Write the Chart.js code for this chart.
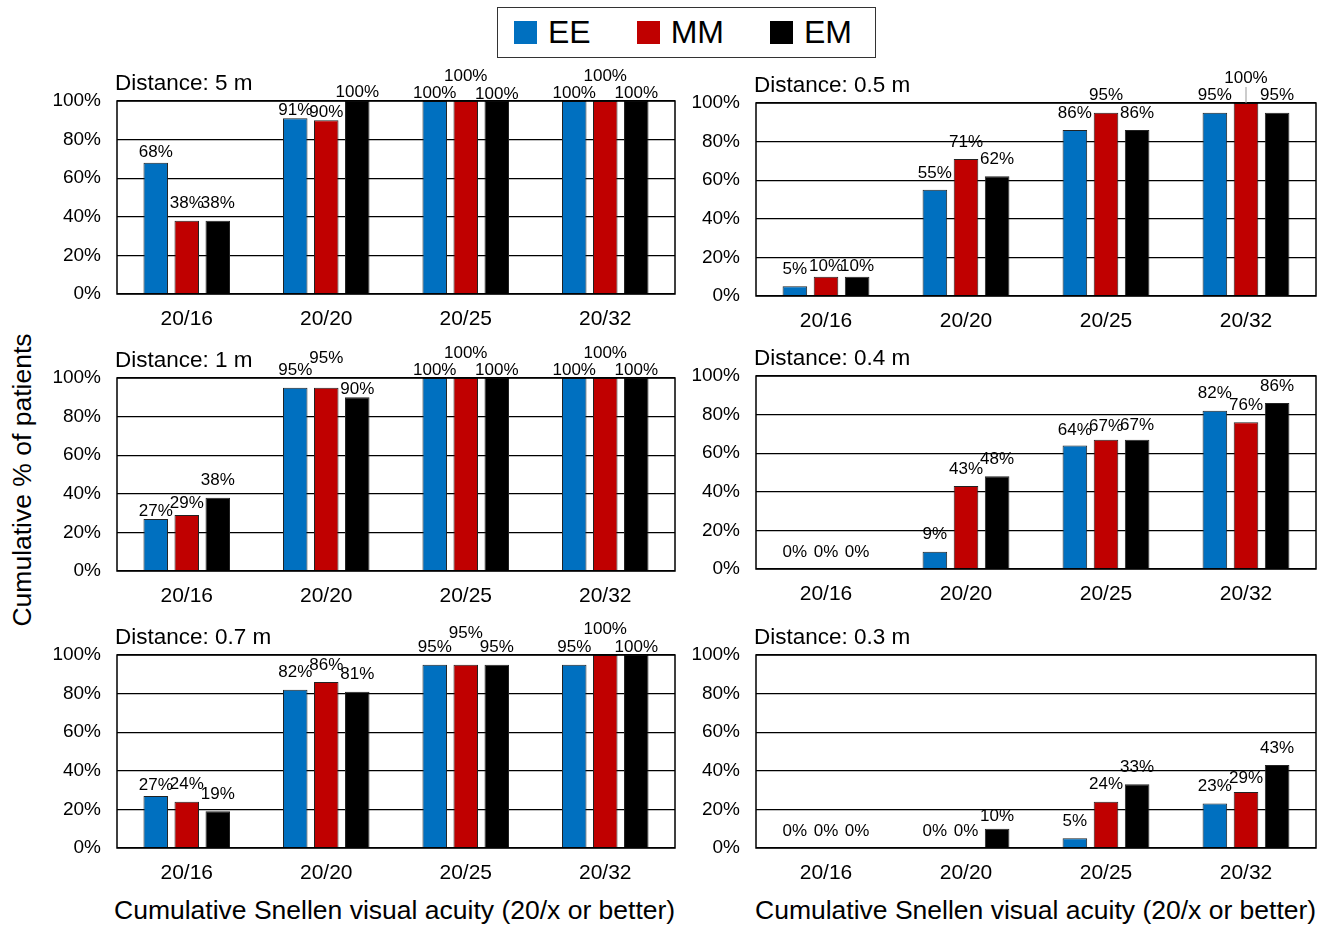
<!DOCTYPE html>
<html>
<head>
<meta charset="utf-8">
<script src="https://cdn.jsdelivr.net/npm/chart.js@4/dist/chart.umd.min.js"></script>
<style>
  body { margin:0; background:#fff; width:1337px; height:926px; position:relative; overflow:hidden;
         font-family:"Liberation Sans", Arial, sans-serif; color:#000; }
  canvas { position:absolute; }
  #legend { position:absolute; left:497px; top:7px; width:379px; height:51px; box-sizing:border-box;
            border:1.5px solid #333; display:flex; align-items:center; padding-left:16px; gap:46px; }
  .item { display:flex; align-items:center; font-size:32px; }
  .sw { width:23px; height:23px; margin-right:11px; }
  #ytitle { position:absolute; left:22px; top:480px; transform:translate(-50%,-50%) rotate(-90deg);
            font-size:26.5px; white-space:nowrap; }
  .xtitle { position:absolute; top:895px; font-size:26.5px; white-space:nowrap; }
</style>
</head>
<body>
<div id="legend"></div>
<div id="ytitle">Cumulative % of patients</div>
<div class="xtitle" style="left:114px">Cumulative Snellen visual acuity (20/x or better)</div>
<div class="xtitle" style="left:755px">Cumulative Snellen visual acuity (20/x or better)</div>

<canvas id="p0"></canvas><canvas id="p1"></canvas>
<canvas id="p2"></canvas><canvas id="p3"></canvas>
<canvas id="p4"></canvas><canvas id="p5"></canvas>

<script>
// ---- data ----
const acuity = ['20/16', '20/20', '20/25', '20/32'];
const groups = ['EE', 'MM', 'EM'];
const groupColors = ['#0070C0', '#C00000', '#000000'];
const yTicks = [0, 20, 40, 60, 80, 100];

const ee5m  = [68, 91, 100, 100], mm5m  = [38, 90, 100, 100], em5m  = [38, 100, 100, 100];
const ee05m = [5, 55, 86, 95],    mm05m = [10, 71, 95, 100],  em05m = [10, 62, 86, 95];
const ee1m  = [27, 95, 100, 100], mm1m  = [29, 95, 100, 100], em1m  = [38, 90, 100, 100];
const ee04m = [0, 9, 64, 82],     mm04m = [0, 43, 67, 76],    em04m = [0, 48, 67, 86];
const ee07m = [27, 82, 95, 95],   mm07m = [24, 86, 95, 100],  em07m = [19, 81, 95, 100];
const ee03m = [0, 0, 5, 23],      mm03m = [0, 0, 24, 29],     em03m = [0, 10, 33, 43];

const panelTitles = ['Distance: 5 m', 'Distance: 0.5 m', 'Distance: 1 m',
                     'Distance: 0.4 m', 'Distance: 0.7 m', 'Distance: 0.3 m'];
const panelSeries = [
  [ee5m, mm5m, em5m], [ee05m, mm05m, em05m],
  [ee1m, mm1m, em1m], [ee04m, mm04m, em04m],
  [ee07m, mm07m, em07m], [ee03m, mm03m, em03m]
];

// ---- layout ----
const FONT = '"Liberation Sans", Arial, sans-serif';
const DEFAULT_LIFT = -17;   // label centre above the bar top
// label placement tweaks where labels would collide ("series,category": offset)
const labelLift = [
  {'0,0': -10, '0,1': -8, '1,1': -8, '2,1': -9, '0,2': -8, '1,2': -25, '2,2': -7, '0,3': -8, '1,3': -25, '2,3': -8},
  {'1,0': -10, '2,0': -10, '1,3': -25},
  {'0,0': -8, '1,0': -12, '1,1': -29, '2,1': -8, '0,2': -8, '1,2': -25, '2,2': -8, '0,3': -8, '1,3': -25, '2,3': -8},
  {'0,2': -15, '1,2': -13, '2,2': -14},
  {'0,0': -11, '1,2': -31, '1,3': -26, '2,3': -8},
  {'2,1': -12, '1,3': -14}
];
const leaderLines = [[], ['1,3'], [], [], [], []];

// canvas placement per panel: left, top, width, axis width, right padding
const placement = [
  [0, 65, 690, 117, 15],   [690, 67, 647, 66, 21],
  [0, 342, 690, 117, 15],  [690, 340, 647, 66, 21],
  [0, 619, 690, 117, 15],  [690, 619, 647, 66, 21]
];
const TOP_PAD = 36, PLOT_H = 193, XAXIS_H = 46;

// legend
const legend = document.getElementById('legend');
groups.forEach((g, i) => {
  const it = document.createElement('div');
  it.className = 'item';
  it.innerHTML = '<div class="sw" style="background:' + groupColors[i] + '"></div>' + g;
  legend.appendChild(it);
});

const panelDecor = {
  id: 'panelDecor',
  afterDatasetsDraw(chart, args, opts) {
    const { ctx, chartArea: a } = chart;
    ctx.save();
    // frame
    ctx.strokeStyle = '#000';
    ctx.lineWidth = 1.5;
    ctx.strokeRect(a.left, a.top, a.right - a.left, a.bottom - a.top);
    // title
    ctx.fillStyle = '#000';
    ctx.font = '22.5px ' + FONT;
    ctx.textAlign = 'left';
    ctx.textBaseline = 'middle';
    ctx.fillText(opts.title, a.left - 2, a.top - 17);
    // value labels
    ctx.font = '17px ' + FONT;
    ctx.textAlign = 'center';
    chart.data.datasets.forEach((ds, i) => {
      chart.getDatasetMeta(i).data.forEach((el, j) => {
        const key = i + ',' + j;
        const lift = opts.lift[key] !== undefined ? opts.lift[key] : DEFAULT_LIFT;
        const y = el.y + lift;
        ctx.fillStyle = '#000';
        ctx.fillText(ds.data[j] + '%', el.x, y);
        if (opts.leaders.includes(key)) {
          ctx.strokeStyle = '#999';
          ctx.lineWidth = 1;
          ctx.beginPath();
          ctx.moveTo(el.x, y + 9);
          ctx.lineTo(el.x, el.y);
          ctx.stroke();
        }
      });
    });
    ctx.restore();
  }
};

panelSeries.forEach((series, p) => {
  const [left, top, width, axisW, padRight] = placement[p];
  const cv = document.getElementById('p' + p);
  cv.width = width;
  cv.height = TOP_PAD + PLOT_H + XAXIS_H;
  cv.style.left = left + 'px';
  cv.style.top = top + 'px';

  new Chart(cv, {
    type: 'bar',
    data: {
      labels: acuity,
      datasets: series.map((vals, i) => ({
        label: groups[i],
        data: vals,
        backgroundColor: groupColors[i],
        borderColor: '#222',
        borderWidth: c => (c.raw === 0 ? 0 : 1),
        borderSkipped: 'bottom',
        categoryPercentage: 0.667,
        barPercentage: 0.79
      }))
    },
    options: {
      responsive: false,
      animation: false,
      devicePixelRatio: 1,
      layout: { padding: { top: TOP_PAD, right: padRight, left: 0, bottom: 0 } },
      plugins: {
        legend: { display: false },
        tooltip: { enabled: false },
        panelDecor: { title: panelTitles[p], lift: labelLift[p], leaders: leaderLines[p] }
      },
      scales: {
        x: {
          grid: { display: false },
          border: { display: false },
          ticks: { color: '#000', font: { family: FONT, size: 21 }, padding: 5, maxRotation: 0 },
          afterFit: s => { s.height = XAXIS_H; }
        },
        y: {
          min: 0, max: 100,
          afterBuildTicks: s => { s.ticks = yTicks.map(v => ({ value: v })); },
          grid: { color: '#000', lineWidth: 1.3, drawTicks: false },
          border: { display: false },
          ticks: { color: '#000', font: { family: FONT, size: 19 }, padding: 16,
                   callback: v => v + '%' },
          afterFit: s => { s.width = axisW; }
        }
      }
    },
    plugins: [panelDecor]
  });
});
</script>
</body>
</html>
